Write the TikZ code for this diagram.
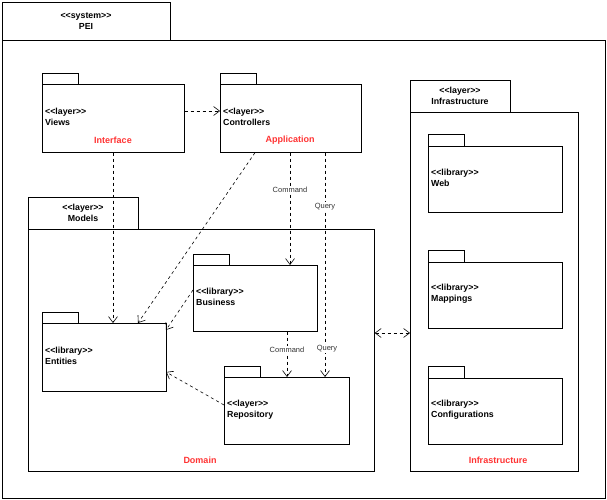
\documentclass[tikz,border=0pt]{standalone}
\usepackage{fontspec}
\setmainfont{Liberation Sans}
\usetikzlibrary{arrows.meta}
\begin{document}
\begin{tikzpicture}[x=1pt,y=-1pt,
  box/.style={draw,fill=white,line width=0.7pt,anchor=north west,inner sep=0pt},
  st/.style={font=\fontsize{8.8}{11}\selectfont\bfseries,align=left,anchor=west,inner sep=0pt},
  stc/.style={font=\fontsize{8.8}{11}\selectfont\bfseries,align=center,inner sep=0pt},
  red/.style={font=\fontsize{9}{10}\selectfont\bfseries,text={rgb,255:red,255;green,51;blue,51},inner sep=0pt},
  dep/.style={draw,dashed,line width=0.6pt,-{Straight Barb[length=6pt,width=9pt]}},
  lab/.style={font=\fontsize{7.5}{8}\selectfont,fill=white,inner sep=1pt,text=black!80}]
\useasboundingbox (0,0) rectangle (607,500);
\newcommand{\mypkg}[7]{% name x1 y1 x2 y2 tabw tabh
  \node[box,minimum width=#6pt,minimum height=#7pt] (#1tab) at (#2,#3-#7) {};
  \node[box,minimum width=#4pt-#2pt,minimum height=#5pt-#3pt] (#1) at (#2,#3) {};}
\newcommand{\myll}{<{}<}
\newcommand{\mygg}{>{}>}
% system
\mypkg{sys}{2}{40}{605}{498}{168}{38}
\node[stc] (systxt) at (86,21) {\myll system\mygg\\PEI};
% Infrastructure layer
\mypkg{infra}{410}{112}{578}{471}{100}{32}
\node[stc] (infratxt) at (460,96) {\myll layer\mygg\\Infrastructure};
\node[red] (infrared) at (498,460) {Infrastructure};
% Models layer
\mypkg{models}{28}{229}{374}{471}{110}{32}
\node[stc] (modelstxt) at (83,213) {\myll layer\mygg\\Models};
\node[red] (domred) at (200,460) {Domain};
% Views
\mypkg{views}{42}{84}{184}{152}{36}{11}
\node[st] (viewstxt) at (45,117) {\myll layer\mygg\\Views};
\node[red] (intred) at (113,140) {Interface};
% Controllers
\mypkg{ctrl}{220}{84}{361}{152}{36}{11}
\node[st] (ctrltxt) at (223,117) {\myll layer\mygg\\Controllers};
\node[red] (appred) at (290,140) {Application};
% Web, Mappings, Configurations
\mypkg{web}{428}{146}{562}{212}{36}{12}
\node[st] (webtxt) at (431,178) {\myll library\mygg\\Web};
\mypkg{map}{428}{262}{562}{328}{36}{12}
\node[st] (maptxt) at (431,294) {\myll library\mygg\\Mappings};
\mypkg{conf}{428}{378}{562}{444}{36}{12}
\node[st] (conftxt) at (431,410) {\myll library\mygg\\Configurations};
% Business, Entities, Repository
\mypkg{bus}{193}{265}{317}{331}{36}{11}
\node[st] (bustxt) at (196,297) {\myll library\mygg\\Business};
\mypkg{ent}{42}{323}{166}{391}{36}{11}
\node[st] (enttxt) at (45,356) {\myll library\mygg\\Entities};
\mypkg{rep}{224}{377}{349}{444}{36}{11}
\node[st] (reptxt) at (227,410) {\myll layer\mygg\\Repository};
% dependencies
\draw[dep] (views.east |- 0,111) -- (ctrl.west |- 0,111);
\draw[dep] (views.south -| 113,0) -- (ent.north -| 113,0);
\draw[dep] (ctrl.south -| 255,0) -- (138,323);
\draw[dep] (ctrl.south -| 290,0) -- node[lab,pos=0.33] (cmd1) {Command} (bus.north -| 290,0);
\draw[dep] (ctrl.south -| 325,0) -- node[lab,pos=0.24] (q1) {Query} (rep.north -| 325,0);
\draw[dep] (bus.west |- 0,290) -- (166,330);
\draw[dep] (bus.south -| 287,0) -- node[lab,pos=0.4] (cmd2) {Command} (rep.north -| 287,0);
\node[lab] (q2) at (327,349) {Query};
\draw[dep] (rep.west |- 0,405) -- (166,372);
\draw[dep,{Straight Barb[length=6pt,width=9pt]}-{Straight Barb[length=6pt,width=9pt]}] (models.east |- 0,333) -- (infra.west |- 0,333);
\end{tikzpicture}
\end{document}
